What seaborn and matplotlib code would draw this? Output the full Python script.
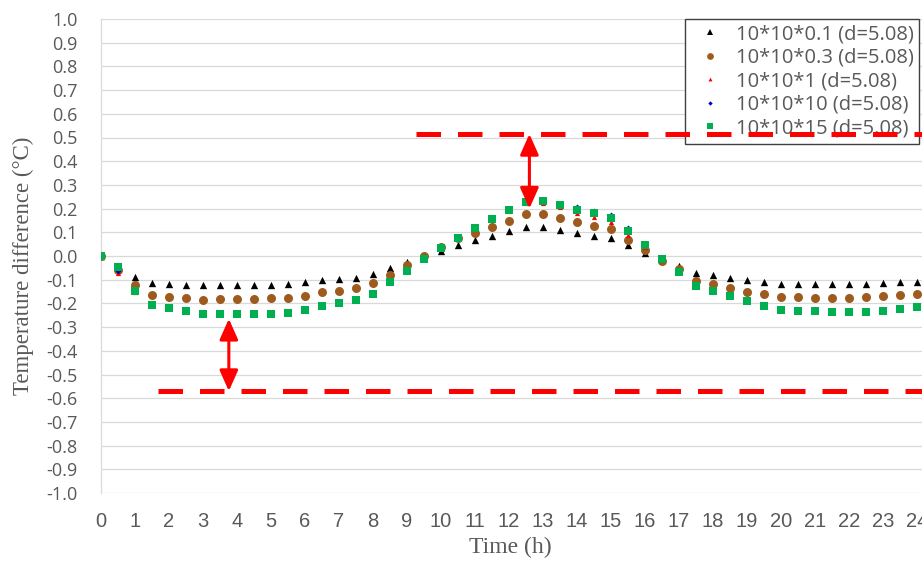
import matplotlib
matplotlib.use("Agg")
import matplotlib.pyplot as plt
from matplotlib.lines import Line2D
import seaborn as sns
import pandas as pd

# Time of day (h), one reading every half hour
hours = [0, 0.5, 1, 1.5, 2, 2.5, 3, 3.5, 4, 4.5, 5, 5.5, 6, 6.5, 7, 7.5, 8, 8.5,
         9, 9.5, 10, 10.5, 11, 11.5, 12, 12.5, 13, 13.5, 14, 14.5, 15, 15.5, 16,
         16.5, 17, 17.5, 18, 18.5, 19, 19.5, 20, 20.5, 21, 21.5, 22, 22.5, 23,
         23.5, 24]

# Temperature difference (°C) for each slab size
diff_01 = [0.0, -0.055, -0.087, -0.112, -0.117, -0.121, -0.121, -0.121, -0.121,
           -0.121, -0.121, -0.118, -0.11, -0.103, -0.096, -0.091, -0.075, -0.052,
           -0.024, 0.0, 0.022, 0.046, 0.066, 0.086, 0.105, 0.121, 0.121, 0.11,
           0.097, 0.086, 0.075, 0.046, 0.013, -0.015, -0.044, -0.073, -0.08,
           -0.091, -0.1, -0.111, -0.118, -0.118, -0.118, -0.118, -0.118, -0.118,
           -0.115, -0.111, -0.108]
diff_03 = [0.0, -0.06, -0.122, -0.164, -0.173, -0.177, -0.186, -0.181, -0.181,
           -0.181, -0.177, -0.177, -0.168, -0.154, -0.146, -0.135, -0.115, -0.079,
           -0.038, 0.001, 0.037, 0.075, 0.097, 0.124, 0.149, 0.179, 0.179, 0.162,
           0.144, 0.128, 0.112, 0.068, 0.024, -0.02, -0.055, -0.104, -0.118,
           -0.135, -0.151, -0.162, -0.175, -0.175, -0.179, -0.179, -0.179, -0.175,
           -0.17, -0.164, -0.16]
diff_1 = [0.0, -0.07, -0.15, -0.2, -0.213, -0.223, -0.235, -0.235, -0.235, -0.235,
          -0.235, -0.232, -0.218, -0.204, -0.193, -0.18, -0.158, -0.108, -0.062,
          -0.01, 0.035, 0.075, 0.113, 0.15, 0.19, 0.222, 0.224, 0.205, 0.182,
          0.165, 0.145, 0.09, 0.04, -0.015, -0.066, -0.118, -0.14, -0.163, -0.182,
          -0.205, -0.22, -0.223, -0.223, -0.227, -0.227, -0.227, -0.223, -0.217,
          -0.21]
diff_10 = [0.0, -0.065, -0.146, -0.207, -0.22, -0.23, -0.24, -0.24, -0.24, -0.24,
           -0.24, -0.237, -0.224, -0.21, -0.198, -0.184, -0.16, -0.11, -0.064,
           -0.012, 0.036, 0.078, 0.118, 0.157, 0.196, 0.232, 0.236, 0.22, 0.205,
           0.19, 0.172, 0.118, 0.05, -0.012, -0.068, -0.123, -0.144, -0.168,
           -0.186, -0.21, -0.226, -0.229, -0.229, -0.233, -0.233, -0.233, -0.229,
           -0.222, -0.215]
diff_15 = [0.0, -0.048, -0.146, -0.207, -0.221, -0.231, -0.243, -0.243, -0.243,
           -0.243, -0.243, -0.24, -0.226, -0.211, -0.2, -0.186, -0.162, -0.111,
           -0.065, -0.013, 0.035, 0.077, 0.117, 0.155, 0.194, 0.229, 0.232, 0.215,
           0.194, 0.18, 0.16, 0.107, 0.047, -0.012, -0.069, -0.125, -0.146, -0.17,
           -0.188, -0.212, -0.228, -0.231, -0.231, -0.235, -0.235, -0.235, -0.231,
           -0.224, -0.217]

series_labels = ["10*10*0.1 (d=5.08)", "10*10*0.3 (d=5.08)", "10*10*1 (d=5.08)",
                 "10*10*10 (d=5.08)", "10*10*15 (d=5.08)"]
series_values = [diff_01, diff_03, diff_1, diff_10, diff_15]

# Reference bounds and where they start (h)
upper_bound = 0.515
upper_start = 9.25
lower_bound = -0.57
lower_start = 1.68
# Double arrows: (time, from, to)
upper_arrow = (12.6, 0.515, 0.20)
lower_arrow = (3.76, -0.265, -0.57)

y_tick_labels = ["-1.0", "-0.9", "-0.8", "-0.7", "-0.6", "-0.5", "-0.4", "-0.3",
                 "-0.2", "-0.1", "0.0", "0.1", "0.2", "0.3", "0.4", "0.5", "0.6",
                 "0.7", "0.8", "0.9", "1.0"]
x_tick_labels = ["0", "1", "2", "3", "4", "5", "6", "7", "8", "9", "10", "11",
                 "12", "13", "14", "15", "16", "17", "18", "19", "20", "21", "22",
                 "23", "24"]

styles = [
    dict(marker="^", s=28, color="#000000", zorder=3),
    dict(marker="o", s=42, color="#9E5B1E", zorder=3.1),
    dict(marker="^", s=14, color="#FF0000", zorder=3.2),
    dict(marker="D", s=9, color="#0000CC", zorder=3.3),
    dict(marker="s", s=34, color="#00B050", zorder=3.4),
]

sns.set_theme(style="white")
plt.rcParams["font.family"] = ["Open Sans", "DejaVu Sans"]

fig = plt.figure(figsize=(9.22, 5.61), dpi=100)
ax = fig.add_axes([101 / 922, 1 - 493 / 561, 821 / 922, 474 / 561])

frames = []
for label, vals in zip(series_labels, series_values):
    frames.append(pd.DataFrame({"Time": hours, "Diff": vals, "Series": label}))
data = pd.concat(frames, ignore_index=True)

handles = []
for label, st in zip(series_labels, styles):
    sub = data[data["Series"] == label]
    sns.scatterplot(data=sub, x="Time", y="Diff", ax=ax, legend=False,
                    linewidth=0, **st)
    handles.append(Line2D([], [], linestyle="none", marker=st["marker"],
                          markersize=(st["s"] ** 0.5) * 0.75,
                          markerfacecolor=st["color"], markeredgewidth=0,
                          label=label))

# Dashed bounds
dash = (0, (4.9, 3.4))
ax.plot([upper_start, 25], [upper_bound, upper_bound], color="#FF0000", lw=3.6,
        linestyle=dash, zorder=7)
ax.plot([lower_start, 25], [lower_bound, lower_bound], color="#FF0000", lw=3.6,
        linestyle=dash, zorder=7)

arrow_style = dict(arrowstyle="<|-|>,head_length=0.9,head_width=0.4",
                   color="#FF0000", lw=2.2, mutation_scale=14,
                   shrinkA=0, shrinkB=0)
for xa, y0, y1 in (upper_arrow, lower_arrow):
    ax.annotate("", xy=(xa, y1), xytext=(xa, y0), arrowprops=arrow_style,
                zorder=8)

ax.set_xlim(0, 821 / 34.0)
ax.set_ylim(-1.0, 1.0)

ax.set_yticks([float(v) for v in y_tick_labels])
ax.set_yticklabels(y_tick_labels, fontsize=13, color="#595959",
                   family=["Open Sans", "DejaVu Sans"])
ax.set_xticks([float(v) for v in x_tick_labels])
ax.set_xticklabels(x_tick_labels, fontsize=14.5, color="#595959",
                   family=["Liberation Sans Narrow", "Liberation Sans", "DejaVu Sans"])
ax.tick_params(axis="y", length=0, pad=17)
ax.tick_params(axis="x", length=0, pad=14)

ax.grid(axis="y", color="#D9D9D9", lw=0.9)
ax.grid(axis="x", visible=False)
for side in ("top", "right", "bottom"):
    ax.spines[side].set_visible(False)
ax.spines["left"].set_color("#D9D9D9")
ax.spines["left"].set_linewidth(0.9)

ax.set_ylabel("Temperature difference (°C)", fontsize=16.5, color="#595959",
              family=["Liberation Serif", "DejaVu Serif"])
ax.yaxis.set_label_coords((34 - 101) / 821, (493 - 266) / 474)
ax.set_xlabel("Time (h)", fontsize=17, color="#595959",
              family=["Liberation Serif", "DejaVu Serif"])
ax.xaxis.set_label_coords((510 - 101) / 821, -(537 - 493) / 474)

leg = ax.legend(handles=handles, loc="upper right",
                bbox_to_anchor=(919 / 922, 1 - 19 / 561),
                bbox_transform=fig.transFigure, borderaxespad=0,
                labelcolor="#595959", frameon=True,
                fancybox=False, framealpha=1, edgecolor="#3F3F3F",
                labelspacing=0.18, handlelength=2.0, handletextpad=0.3,
                borderpad=0.25,
                prop={"family": ["Open Sans", "DejaVu Sans"], "size": 14.5})
leg.get_frame().set_linewidth(1.0)
leg.set_zorder(5)

fig.savefig("out.png", dpi=100)
